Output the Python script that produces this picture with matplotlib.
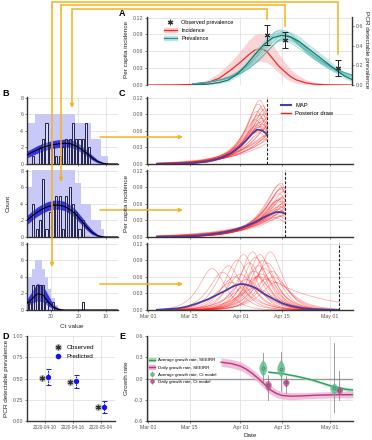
import numpy as np
import matplotlib
matplotlib.use("Agg")
import matplotlib.pyplot as plt
from matplotlib.lines import Line2D
from matplotlib.patches import Patch, FancyArrowPatch

plt.rcParams['font.family'] = ['Liberation Sans', 'DejaVu Sans']

# days are counted from 2020-03-01
date_ticks = [0, 14, 31, 45, 61]
date_labels = ['Mar 01', 'Mar 15', 'Apr 01', 'Apr 15', 'May 01']
sample_days = [40, 46, 64]
sample_labels = ['2020-04-10', '2020-04-16', '2020-05-04']

# ---- panel A: SEEIRR incidence and prevalence
obs_prev = [0.51, 0.46, 0.17]
obs_lo = [0.41, 0.38, 0.095]
obs_hi = [0.61, 0.535, 0.255]

inc_days = [0, 10, 15, 20, 24, 28, 31, 34, 36, 38, 40, 42, 44, 46, 48, 50, 53, 56, 60, 68.7]
inc_map = [0, 0.0003, 0.001, 0.004, 0.012, 0.027, 0.040, 0.054, 0.062, 0.065, 0.060, 0.047,
           0.034, 0.024, 0.015, 0.009, 0.004, 0.0015, 0.0004, 0]
inc_lo = [0, 0, 0.0003, 0.002, 0.006, 0.015, 0.024, 0.034, 0.040, 0.042, 0.040, 0.033,
          0.022, 0.013, 0.007, 0.003, 0.001, 0, 0, 0]
inc_hi = [0, 0.001, 0.003, 0.009, 0.022, 0.042, 0.060, 0.080, 0.090, 0.092, 0.087, 0.072,
          0.056, 0.041, 0.028, 0.019, 0.010, 0.005, 0.002, 0]

prev_days = [15, 20, 24, 27, 30, 33, 36, 39, 42, 45, 48, 51, 54, 57, 60, 63, 66, 68.7]
prev_map = [0.002, 0.008, 0.025, 0.05, 0.11, 0.2, 0.31, 0.41, 0.48, 0.505, 0.49, 0.44,
            0.37, 0.3, 0.23, 0.16, 0.095, 0.055]
prev_lo = [0.0, 0.003, 0.013, 0.032, 0.08, 0.16, 0.26, 0.36, 0.43, 0.455, 0.44, 0.39,
           0.32, 0.25, 0.18, 0.12, 0.065, 0.035]
prev_hi = [0.005, 0.016, 0.04, 0.075, 0.145, 0.245, 0.36, 0.46, 0.53, 0.56, 0.545, 0.495,
           0.42, 0.35, 0.28, 0.205, 0.13, 0.08]
prev_draw_peak = [44.5, 45.5, 46.0, 44.0, 45.0, 46.5, 45.2, 44.8]
prev_draw_height = [0.53, 0.50, 0.47, 0.55, 0.52, 0.49, 0.45, 0.56]
prev_draw_rise = [6.6, 7.0, 7.2, 6.4, 6.8, 7.4, 7.0, 6.5]
prev_draw_fall = [10.5, 11.0, 11.5, 10.0, 11.5, 10.5, 12.0, 11.0]

# ---- panel B: Ct histograms
ct_bins = [38.8, 37.6, 36.4, 35.2, 34.0, 32.8, 31.6, 30.4, 29.2, 28.0, 26.8, 25.6, 24.4, 23.2,
           22.0, 20.8, 19.6, 18.4, 17.2, 16.0, 14.8, 13.6, 12.4, 11.2, 10.0, 8.8, 7.6, 6.4]
counts_apr10 = [0, 0, 1, 0, 2, 3, 5, 2, 2, 1, 1, 2, 3, 3, 5, 3, 3, 3, 5, 2, 0, 0, 0, 0, 0, 0, 0, 0]
counts_apr16 = [0, 0, 4, 1, 2, 7, 1, 3, 4, 5, 5, 1, 5, 6, 4, 3, 1, 2, 0, 0, 0, 0, 0, 0, 0, 0, 0, 0]
counts_may04 = [1, 1, 3, 3, 3, 3, 1, 0, 1, 0, 0, 0, 0, 0, 0, 0, 0, 1, 0, 0, 0, 0, 0, 0, 0, 0, 0, 0]
pred_band_apr10 = [4, 5, 5, 6, 6, 6, 6, 6, 6, 6, 6, 6, 6, 6, 6, 5, 5, 5, 5, 5, 3, 3, 3, 1, 1, 0, 0, 0]
pred_band_apr16 = [5, 6, 9, 9, 9, 9, 9, 9, 9, 9, 9, 9, 9, 9, 9, 6.5, 6.5, 4, 4, 4, 2, 2, 2, 1, 0, 0, 0, 0]
pred_band_may04 = [2.5, 4, 5, 6, 6, 5, 4, 2.5, 1.5, 0.6, 0.2, 0, 0, 0, 0, 0, 0, 0, 0, 0, 0, 0, 0, 0, 0, 0, 0, 0]

ct_grid = [38.7, 37, 35, 33, 31, 29, 27, 25, 23, 21, 19, 17, 15, 13, 11, 9, 7, 5.6]
fit_apr10 = [1.1, 1.4, 1.7, 2.0, 2.2, 2.35, 2.45, 2.5, 2.45, 2.2, 1.8, 1.3, 0.75, 0.3, 0.08, 0.01, 0, 0]
fit_lo_apr10 = [0.75, 1.0, 1.3, 1.55, 1.75, 1.9, 2.0, 2.05, 2.0, 1.8, 1.4, 0.95, 0.5, 0.15, 0.02, 0, 0, 0]
fit_hi_apr10 = [1.55, 1.85, 2.2, 2.5, 2.7, 2.85, 2.95, 3.0, 2.95, 2.7, 2.25, 1.7, 1.05, 0.5, 0.18, 0.04, 0, 0]
fit_apr16 = [2.0, 2.5, 3.0, 3.4, 3.7, 3.85, 3.85, 3.7, 3.3, 2.75, 2.0, 1.2, 0.55, 0.15, 0.02, 0, 0, 0]
fit_lo_apr16 = [1.5, 2.0, 2.5, 2.9, 3.2, 3.35, 3.35, 3.2, 2.8, 2.25, 1.55, 0.85, 0.3, 0.05, 0, 0, 0, 0]
fit_hi_apr16 = [2.6, 3.1, 3.6, 4.0, 4.3, 4.45, 4.45, 4.3, 3.9, 3.3, 2.5, 1.6, 0.85, 0.3, 0.06, 0.01, 0, 0]
fit_may04 = [0.8, 1.3, 1.95, 1.85, 1.0, 0.3, 0.05, 0, 0, 0, 0, 0, 0, 0, 0, 0, 0, 0]
fit_lo_may04 = [0.5, 0.8, 1.1, 1.0, 0.5, 0.1, 0, 0, 0, 0, 0, 0, 0, 0, 0, 0, 0, 0]
fit_hi_may04 = [1.3, 2.2, 3.2, 3.0, 1.8, 0.6, 0.15, 0, 0, 0, 0, 0, 0, 0, 0, 0, 0, 0]

# ---- panel C: incidence fitted with data up to each sample date
map_days_apr10 = [3, 10, 15, 20, 22, 25, 28, 31, 33, 35, 36.5, 38, 39.5, 40]
map_apr10 = [0.0002, 0.0005, 0.0015, 0.0045, 0.007, 0.012, 0.02, 0.032, 0.043, 0.055, 0.062, 0.061, 0.056, 0.053]
map_days_apr16 = [3, 10, 16, 22, 26, 30, 33, 36, 39, 41, 43, 44.5, 46]
map_apr16 = [0.0002, 0.0006, 0.0018, 0.0055, 0.009, 0.014, 0.02, 0.027, 0.036, 0.041, 0.045, 0.045, 0.042]
map_days_may04 = [3, 5, 10, 13, 16, 20, 23, 26, 29, 31, 33, 36, 39, 42, 45, 48, 52, 56, 60, 64]
map_may04 = [0.0005, 0.001, 0.003, 0.006, 0.011, 0.019, 0.027, 0.035, 0.044, 0.047, 0.046, 0.04,
             0.029, 0.02, 0.012, 0.007, 0.003, 0.0012, 0.0005, 0.0002]

draw_peak_apr10 = [37.5, 37.0, 38.0, 36.5, 38.5, 37.0, 36.0, 38.0, 39.0, 37.5, 36.5, 38.0, 39.5, 37.0, 38.5,
                   40.5, 41.0, 42.0, 43.0, 44.0, 41.5, 45.0, 39.0, 37.8, 36.8, 38.2, 40.0, 42.5, 46.0, 39.5]
draw_height_apr10 = [0.115, 0.108, 0.100, 0.095, 0.105, 0.088, 0.080, 0.090, 0.098, 0.075, 0.070, 0.083,
                     0.092, 0.066, 0.078, 0.085, 0.072, 0.078, 0.062, 0.070, 0.058, 0.065, 0.062, 0.068,
                     0.058, 0.072, 0.052, 0.048, 0.055, 0.045]
draw_rise_apr10 = [4.6, 4.8, 5.0, 5.0, 4.8, 5.5, 5.8, 5.4, 5.2, 6.2, 6.5, 5.8, 5.6, 7.0, 6.4,
                   6.2, 7.2, 7.5, 8.5, 8.5, 9.0, 9.5, 7.5, 6.8, 7.8, 6.5, 9.5, 11.0, 11.0, 11.0]
draw_fall_apr10 = [3.5, 3.5, 3.5, 4.0, 3.5, 4.0, 4.5, 4.0, 3.5, 4.5, 5.0, 4.0, 4.0, 5.0, 4.0,
                   4.0, 4.0, 4.0, 4.0, 4.0, 4.0, 4.0, 4.0, 4.5, 5.0, 4.0, 4.0, 4.0, 4.0, 5.0]
draw_peak_apr16 = [44.5, 44.0, 45.0, 44.5, 45.5, 44.0, 46.0, 45.0, 43.5, 44.8, 46.5, 45.2, 47.0,
                   48.0, 44.2, 45.8, 43.8, 47.5, 44.6, 45.4, 43.0, 44.9, 42.5, 46.8, 49.0,
                   44.7, 45.1, 44.3, 45.6]
draw_height_apr16 = [0.097, 0.094, 0.090, 0.086, 0.082, 0.078, 0.075, 0.072, 0.066, 0.064, 0.065,
                     0.060, 0.060, 0.058, 0.055, 0.054, 0.050, 0.052, 0.047, 0.044, 0.040, 0.038,
                     0.035, 0.040, 0.050, 0.088, 0.070, 0.068, 0.056]
draw_rise_apr16 = [6.0, 6.1, 6.3, 6.6, 6.5, 7.0, 6.9, 7.4, 7.8, 8.0, 7.8, 8.6, 8.6, 9.2, 9.2,
                   9.8, 10.0, 10.2, 11.0, 12.0, 12.0, 13.5, 14.0, 13.0, 10.5, 6.2, 7.2, 7.6, 8.8]
draw_fall_apr16 = [3.5, 3.5, 3.5, 4.0, 4.0, 4.0, 4.0, 4.0, 4.0, 4.0, 4.0, 4.0, 4.0, 4.0, 4.0,
                   4.0, 5.0, 4.0, 5.0, 5.0, 6.0, 6.0, 6.0, 5.0, 4.0, 3.5, 4.0, 4.0, 4.5]
draw_peak_may04 = [21.5, 25.0, 27.0, 29.0, 30.0, 31.0, 32.0, 33.0, 34.0, 35.0, 35.5, 36.0, 36.5, 37.0,
                   37.5, 38.0, 38.5, 39.0, 39.5, 40.0, 41.0, 41.5, 42.0, 43.0, 33.5, 28.0, 36.0, 37.0]
draw_height_may04 = [0.075, 0.068, 0.080, 0.060, 0.090, 0.065, 0.100, 0.055, 0.085, 0.105, 0.070,
                     0.095, 0.060, 0.080, 0.100, 0.065, 0.090, 0.075, 0.055, 0.085, 0.105, 0.070,
                     0.060, 0.050, 0.045, 0.050, 0.040, 0.060]
draw_rise_may04 = [3.5, 3.8, 3.5, 4.2, 3.3, 4.0, 3.2, 4.5, 3.5, 3.0, 3.8, 3.2, 4.2, 3.5,
                   3.0, 4.0, 3.3, 3.6, 4.5, 3.4, 3.0, 3.8, 4.2, 4.8, 5.5, 5.0, 6.0, 4.0]
draw_fall_may04 = [3.5, 4.0, 3.5, 4.2, 3.5, 4.0, 3.2, 4.5, 3.5, 3.2, 3.8, 3.4, 4.2, 3.6,
                   3.2, 4.0, 3.4, 3.8, 4.5, 3.5, 3.2, 4.0, 4.5, 5.0, 5.5, 5.0, 6.0, 16.0]

# ---- panel D: prevalence
pred_prev = [0.52, 0.47, 0.17]
pred_lo = [0.42, 0.39, 0.10]
pred_hi = [0.61, 0.54, 0.24]

# ---- panel E: growth rates
daily_days = [24.5, 28, 31, 33, 35, 37, 39, 41, 43, 45, 48, 52, 57, 62, 68.7]
daily_rate = [0.23, 0.21, 0.175, 0.13, 0.07, 0.0, -0.08, -0.16, -0.21, -0.24, -0.25, -0.245, -0.235, -0.23, -0.228]
daily_lo = [0.17, 0.15, 0.115, 0.07, 0.01, -0.06, -0.14, -0.22, -0.265, -0.29, -0.3, -0.29, -0.28, -0.275, -0.272]
daily_hi = [0.29, 0.27, 0.235, 0.19, 0.13, 0.06, -0.02, -0.10, -0.155, -0.19, -0.2, -0.2, -0.19, -0.185, -0.184]
avg_days = [40.5, 45, 50, 55, 58, 61, 64, 66, 68.7]
avg_rate = [0.09, 0.07, 0.03, -0.02, -0.06, -0.1, -0.13, -0.15, -0.165]
avg_lo = [0.075, 0.056, 0.016, -0.036, -0.078, -0.12, -0.155, -0.178, -0.195]
avg_hi = [0.105, 0.084, 0.044, -0.004, -0.042, -0.08, -0.105, -0.122, -0.135]

ct_avg_days = [38.5, 44.5, 62.3]
ct_avg_med = [0.15, 0.14, -0.13]
ct_avg_body = [(0.03, 0.27), (0.02, 0.27), (-0.24, -0.06)]
ct_avg_tail = [(-0.06, 0.36), (-0.18, 0.38), (-0.47, 0.50)]
ct_daily_days = [40.2, 46.2, 64.1]
ct_daily_med = [-0.085, -0.05, -0.16]
ct_daily_body = [(-0.18, -0.02), (-0.12, 0.0), (-0.23, -0.11)]
ct_daily_tail = [(-0.30, 0.05), (-0.20, 0.03), (-0.30, 0.10)]

# colours
orange = '#F6B21C'
red = '#F4262B'
teal = '#23948F'
map_blue = '#4242A6'
green = '#2E9E5B'
pink = '#C2327F'
grid_col = '#E2E2E2'
W, H = 372, 440

fig = plt.figure(figsize=(W / 100, H / 100), dpi=100)


def px_axes(x0, y0, x1, y1):
    return fig.add_axes([x0 / W, 1 - y1 / H, (x1 - x0) / W, (y1 - y0) / H])


def style(ax, bottom=True):
    for s in ['top', 'right']:
        ax.spines[s].set_visible(False)
    ax.spines['left'].set_color('#333333')
    ax.spines['left'].set_linewidth(1.0)
    if bottom:
        ax.spines['bottom'].set_color('#333333')
        ax.spines['bottom'].set_linewidth(1.0)
    else:
        ax.spines['bottom'].set_visible(False)
    ax.grid(True, color=grid_col, lw=0.6)
    ax.set_axisbelow(True)
    ax.tick_params(labelsize=3.8, length=1.5, width=0.5, colors='#555555', pad=1.2)


def pulse(t, peak, height, rise, fall, round_off):
    d = t - peak
    w = np.where(d < 0, rise, fall)
    return height * np.exp(-(np.sqrt(d ** 2 + round_off ** 2) - round_off) / w)


def date_axis(ax, labels):
    ax.set_xlim(-0.3, 68.7)
    ax.set_xticks(date_ticks)
    ax.set_xticklabels(date_labels if labels else [])


# ================= A =================
ax_a = px_axes(147, 17, 352, 85)
style(ax_a, bottom=False)
date_axis(ax_a, False)
ax_a.tick_params(axis='x', length=0)
ax_a.set_ylim(0, 0.121)
ax_a.set_yticks([0, 0.03, 0.06, 0.09, 0.12])
ax_a.set_yticklabels(['0.00', '0.03', '0.06', '0.09', '0.12'])
ax_a.fill_between(inc_days, inc_lo, inc_hi, color='#F7B9B9', alpha=0.6, lw=0)
ax_a.plot(inc_days, inc_map, color=red, lw=0.9)

ax_p = ax_a.twinx()
ax_p.set_ylim(0, 0.6 * 0.121 / 0.105)
ax_p.set_yticks([0, 0.2, 0.4, 0.6])
ax_p.set_yticklabels(['0.0', '0.2', '0.4', '0.6'])
for s in ['top', 'left', 'bottom']:
    ax_p.spines[s].set_visible(False)
ax_p.spines['right'].set_color('#333333')
ax_p.spines['right'].set_linewidth(1.0)
ax_p.tick_params(labelsize=3.8, length=1.5, width=0.5, colors='#555555', pad=1.2)
ax_p.fill_between(prev_days, prev_lo, prev_hi, color='#A5D9D4', alpha=0.6, lw=0)
t_prev = np.linspace(15, 68.7, 200)
for pk, hh, r, f in zip(prev_draw_peak, prev_draw_height, prev_draw_rise, prev_draw_fall):
    ax_p.plot(t_prev, pulse(t_prev, pk, hh, r, f, 6.0), color='#3BB0A8', lw=0.5, alpha=0.6)
ax_p.plot(prev_days, prev_map, color='#157774', lw=0.9)
ax_p.errorbar(sample_days, obs_prev,
              yerr=[np.subtract(obs_prev, obs_lo), np.subtract(obs_hi, obs_prev)],
              fmt='none', ecolor='#222222', elinewidth=0.7, capsize=2, capthick=0.7)
ax_p.plot(sample_days, obs_prev, ls='none', marker=(6, 2, 0), color='#333333', ms=4, mew=0.8)

leg_a = [Line2D([], [], ls='none', marker=(6, 2, 0), color='#333333', ms=4, mew=0.8),
         (Patch(color='#F7B9B9', alpha=0.6), Line2D([], [], color=red, lw=0.9)),
         (Patch(color='#A5D9D4', alpha=0.6), Line2D([], [], color=teal, lw=0.9))]
ax_p.legend(leg_a, ['Observed prevalence', 'Incidence', 'Prevalence'], loc='upper left',
            bbox_to_anchor=(0.07, 0.99), fontsize=4, frameon=False, handlelength=2.4,
            labelspacing=0.55, borderaxespad=0)

# ================= B & C =================
b_rows = [(97, 164), (170, 237), (243, 310)]
hist_counts = [counts_apr10, counts_apr16, counts_may04]
pred_bands = [pred_band_apr10, pred_band_apr16, pred_band_may04]
fits = [fit_apr10, fit_apr16, fit_may04]
fit_los = [fit_lo_apr10, fit_lo_apr16, fit_lo_may04]
fit_his = [fit_hi_apr10, fit_hi_apr16, fit_hi_may04]
map_days = [map_days_apr10, map_days_apr16, map_days_may04]
map_vals = [map_apr10, map_apr16, map_may04]
draws = [(draw_peak_apr10, draw_height_apr10, draw_rise_apr10, draw_fall_apr10, 2.5),
         (draw_peak_apr16, draw_height_apr16, draw_rise_apr16, draw_fall_apr16, 2.5),
         (draw_peak_may04, draw_height_may04, draw_rise_may04, draw_fall_may04, 4.0)]

b_axes, c_axes = [], []
for i, (y0, y1) in enumerate(b_rows):
    last = i == 2
    ax = px_axes(27, y0, 118, y1)
    style(ax)
    ax.set_xlim(38.7, 5.6)
    ax.set_ylim(0, 8.1)
    ax.set_yticks([0, 2, 4, 6, 8])
    ax.set_xticks([30, 20, 10])
    if not last:
        ax.set_xticklabels([])
    ax.fill_between(ct_bins, 0, pred_bands[i], step='mid', color='#C9C9F7', lw=0, zorder=1)
    ax.fill_between(ct_grid, fit_los[i], fit_his[i], color='#2424E6', alpha=0.9, lw=0, zorder=2)
    ax.bar(ct_bins, hist_counts[i], width=0.75, facecolor=(1, 1, 1, 0.3),
           edgecolor='#22224A', lw=0.7, zorder=3)
    ax.plot(ct_grid, fits[i], color='black', lw=0.8, zorder=4)
    b_axes.append(ax)

    axc = px_axes(147, y0, 353, y1)
    style(axc)
    date_axis(axc, last)
    axc.set_ylim(0, 0.121)
    axc.set_yticks([0, 0.03, 0.06, 0.09, 0.12])
    axc.set_yticklabels(['0.00', '0.03', '0.06', '0.09', '0.12'])
    pk_list, h_list, r_list, f_list, ro = draws[i]
    t = np.linspace(3, sample_days[i], 250)
    for pk, hh, r, f in zip(pk_list, h_list, r_list, f_list):
        axc.plot(t, pulse(t, pk, hh, r, f, ro), color='#FF1A1A', lw=0.5, alpha=0.4)
    axc.plot(map_days[i], map_vals[i], color=map_blue, lw=1.3)
    axc.axvline(sample_days[i], color='#222222', lw=0.8, ls=(0, (2.5, 1.5)))
    c_axes.append(axc)

c_axes[0].legend([Line2D([], [], color=map_blue, lw=1.5), Line2D([], [], color='#FF1A1A', lw=1.0)],
                 ['MAP', 'Posterior draw'], loc='upper left', bbox_to_anchor=(0.64, 0.95),
                 fontsize=4.2, frameon=False, handlelength=1.6, labelspacing=0.6, borderaxespad=0)

# ================= D =================
ax_d = px_axes(27, 336, 115, 421)
style(ax_d)
cats = np.arange(1, 4)
ax_d.set_xlim(0.35, 3.52)
ax_d.set_ylim(0, 1.0)
ax_d.set_yticks([0, 0.25, 0.5, 0.75, 1.0])
ax_d.set_yticklabels(['0.00', '0.25', '0.50', '0.75', '1.00'])
ax_d.set_xticks(cats)
ax_d.set_xticklabels(sample_labels, fontsize=3.4)
eb = ax_d.errorbar(cats + 0.12, pred_prev,
                   yerr=[np.subtract(pred_prev, pred_lo), np.subtract(pred_hi, pred_prev)],
                   fmt='o', color='#1414F0', ms=2.8, elinewidth=0.8, capsize=1.8, capthick=0.7)
eb[2][0].set_linestyle((0, (1.5, 0.8)))
ax_d.plot(cats - 0.1, obs_prev, ls='none', marker='o', color='#BDBDBD', ms=4)
ax_d.plot(cats - 0.1, obs_prev, ls='none', marker=(6, 2, 0), color='#333333', ms=3.8, mew=0.8)
ax_d.legend([(Line2D([], [], ls='none', marker='o', color='#BDBDBD', ms=4),
              Line2D([], [], ls='none', marker=(6, 2, 0), color='#333333', ms=3.8, mew=0.8)),
             Line2D([], [], ls='none', marker='o', color='#1414F0', ms=3)],
            ['Observed', 'Predicted'], loc='upper left', bbox_to_anchor=(0.28, 0.93),
            fontsize=4.6, frameon=False, handlelength=1.2, labelspacing=0.6, borderaxespad=0)

# ================= E =================
ax_e = px_axes(147, 336, 353, 421)
style(ax_e)
date_axis(ax_e, True)
ax_e.set_ylim(-0.6, 0.6)
ax_e.set_yticks([-0.6, -0.3, 0, 0.3, 0.6])
ax_e.set_yticklabels(['-0.6', '-0.3', '0.0', '0.3', '0.6'])
ax_e.axhline(0, color='#9A9A9A', lw=1.0, zorder=1)
ax_e.fill_between(daily_days, daily_lo, daily_hi, color='#EBB1D2', alpha=0.8, lw=0, zorder=2)
ax_e.plot(daily_days, daily_rate, color=pink, lw=1.0, zorder=3)
ax_e.fill_between(avg_days, avg_lo, avg_hi, color='#A8DDB8', alpha=0.8, lw=0, zorder=2)
ax_e.plot(avg_days, avg_rate, color=green, lw=1.0, zorder=3)


def violin(ax, x, med, body, tail, color, half_width):
    ax.plot([x, x], tail, color='#777777', lw=0.5, zorder=4)
    lo, hi = body
    y_low = np.linspace(lo, med, 30)
    y_up = np.linspace(med, hi, 30)
    w_low = half_width * np.sin(np.pi / 2 * (y_low - lo) / (med - lo))
    w_up = half_width * np.cos(np.pi / 2 * (y_up - med) / (hi - med))
    ys = np.concatenate([y_low, y_up])
    ws = np.concatenate([w_low, w_up])
    ax.fill_betweenx(ys, x - ws, x + ws, color=color, alpha=0.85, lw=0, zorder=5)
    ax.plot(x, med, 'o', color=color, ms=2.2, mec='#555555', mew=0.3, zorder=6)


for x, m, b, tl in zip(ct_avg_days, ct_avg_med, ct_avg_body, ct_avg_tail):
    violin(ax_e, x, m, b, tl, '#5DBE8C', 1.3)
for x, m, b, tl in zip(ct_daily_days, ct_daily_med, ct_daily_body, ct_daily_tail):
    violin(ax_e, x, m, b, tl, '#C0548F', 1.1)

leg_e = [(Patch(color='#A8DDB8'), Line2D([], [], color=green, lw=1.0)),
         (Patch(color='#EBB1D2'), Line2D([], [], color=pink, lw=1.0)),
         (Line2D([], [], ls='none', marker='|', color='#5DBE8C', ms=5, mew=0.6),
          Line2D([], [], ls='none', marker='o', color='#5DBE8C', ms=2.2)),
         (Line2D([], [], ls='none', marker='|', color='#C0548F', ms=5, mew=0.6),
          Line2D([], [], ls='none', marker='o', color='#C0548F', ms=2.2))]
ax_e.legend(leg_e, ['Average growth rate, SEEIRR', 'Daily growth rate, SEEIRR',
                    'Average growth rate, Ct model', 'Daily growth rate, Ct model'],
            loc='upper left', bbox_to_anchor=(0.0, 0.76), fontsize=3.2, frameon=False,
            handlelength=1.5, labelspacing=0.7, borderaxespad=0, handletextpad=0.5)

# ================= text =================
for lab, x, y in [('A', 119, 14), ('B', 2, 93), ('C', 119, 93), ('D', 2, 336), ('E', 119, 336)]:
    fig.text(x / W, 1 - y / H, lab, fontsize=6.5, fontweight='bold', ha='left', va='center')


def label(x, y, s, rot=0):
    fig.text(x / W, 1 - y / H, s, fontsize=4.6, color='#222222', rotation=rot, ha='center', va='center')


label(127, 50, 'Per capita incidence', 90)
label(367, 50, 'PCR detectable prevalence', 270)
label(8, 203, 'Count', 90)
label(127, 203, 'Per capita incidence', 90)
label(72, 326, 'Ct value')
label(7, 378, 'PCR detectable prevalence', 90)
label(127, 378, 'Growth rate', 90)
label(250, 435, 'Date')

# ================= orange connectors =================
top_y = [9, 5, 1.7]
drop_x = [72, 61, 52]
tip_y = [108, 182, 267]
for i, day in enumerate(sample_days):
    sx, sy = ax_p.transData.transform((day, obs_hi[i]))
    sy = H - sy - 6
    pts = [(sx, sy), (sx, top_y[i]), (drop_x[i], top_y[i]), (drop_x[i], top_y[i] + 5)]
    xs = [p[0] / W for p in pts]
    ys = [1 - p[1] / H for p in pts]
    fig.add_artist(Line2D(xs, ys, transform=fig.transFigure, color=orange, lw=1.1,
                          solid_joinstyle='miter'))
    fig.add_artist(FancyArrowPatch((drop_x[i] / W, 1 - (top_y[i] + 5) / H),
                                   (drop_x[i] / W, 1 - tip_y[i] / H),
                                   transform=fig.transFigure, arrowstyle='-|>',
                                   mutation_scale=5, color=orange, lw=1.1,
                                   shrinkA=0, shrinkB=0))

for y in [137, 210, 284]:
    fig.add_artist(FancyArrowPatch((100 / W, 1 - y / H), (183 / W, 1 - y / H),
                                   transform=fig.transFigure, arrowstyle='-|>',
                                   mutation_scale=5, color=orange, lw=1.1,
                                   shrinkA=0, shrinkB=0))

fig.savefig('out.png', dpi=100)
